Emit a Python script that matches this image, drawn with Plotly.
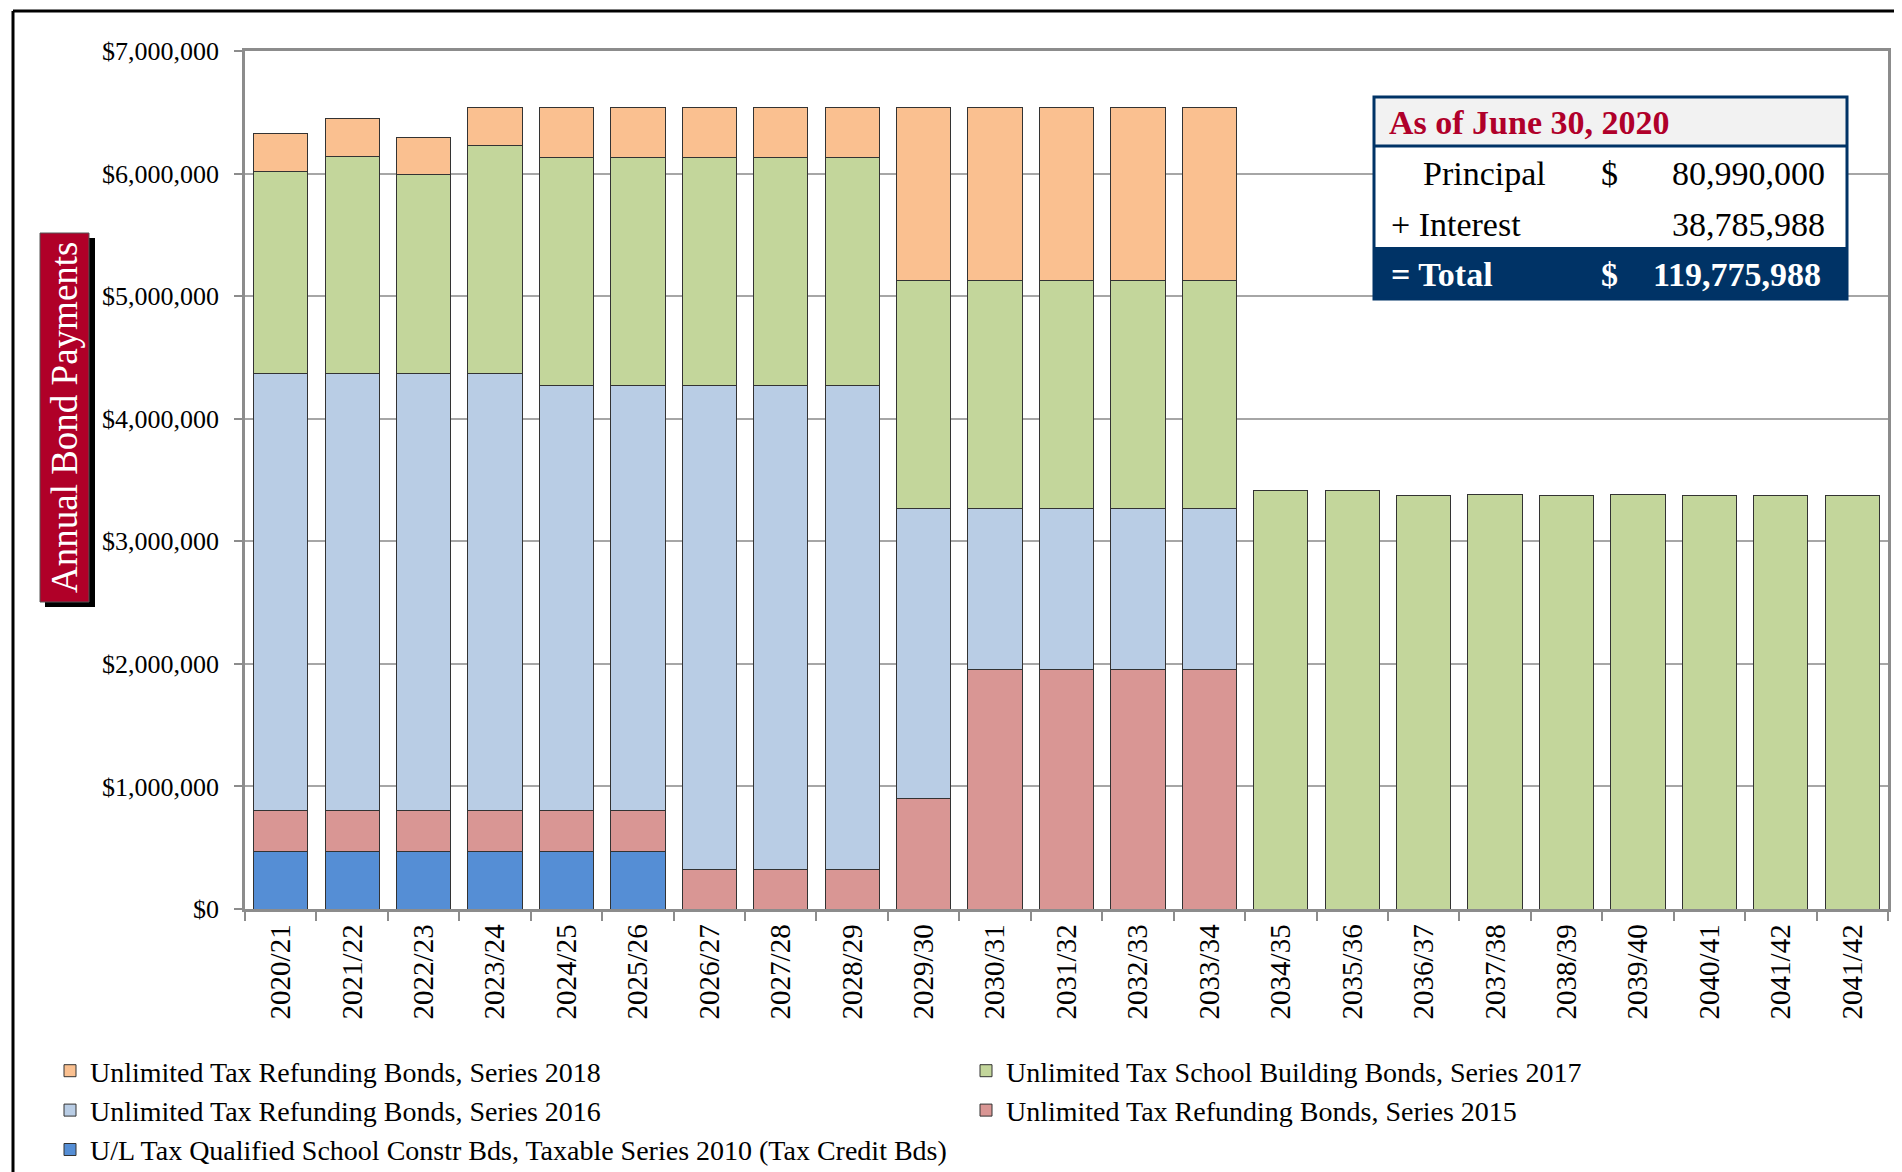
import plotly.graph_objects as go

# fiscal years (last label repeats in the source chart)
years = ['2020/21', '2021/22', '2022/23', '2023/24', '2024/25', '2025/26', '2026/27',
         '2027/28', '2028/29', '2029/30', '2030/31', '2031/32', '2032/33', '2033/34',
         '2034/35', '2035/36', '2036/37', '2037/38', '2038/39', '2039/40', '2040/41',
         '2041/42', '2041/42']

# annual payments by bond series
s2010 = [472000, 472000, 472000, 472000, 472000, 472000, 0, 0, 0, 0, 0, 0, 0, 0,
         0, 0, 0, 0, 0, 0, 0, 0, 0]
s2015 = [333000, 333000, 333000, 333000, 333000, 333000, 324000, 324000, 324000,
         904000, 1956000, 1956000, 1956000, 1956000, 0, 0, 0, 0, 0, 0, 0, 0, 0]
s2016 = [3563000, 3563000, 3563000, 3567000, 3467000, 3467000, 3948000, 3948000,
         3948000, 2361000, 1309000, 1309000, 1309000, 1309000, 0, 0, 0, 0, 0, 0, 0, 0, 0]
s2017 = [1649000, 1771000, 1621000, 1858000, 1861000, 1861000, 1861000, 1861000,
         1861000, 1861000, 1861000, 1861000, 1861000, 1863000, 3418000, 3418000,
         3372000, 3378000, 3375000, 3378000, 3375000, 3372000, 3372000]
s2018 = [313000, 312000, 309000, 309000, 406000, 406000, 406000, 406000, 406000,
         1413000, 1413000, 1413000, 1413000, 1413000, 0, 0, 0, 0, 0, 0, 0, 0, 0]

series = [
    ('U/L Tax Qualified School Constr Bds, Taxable Series 2010 (Tax Credit Bds)', s2010, '#558ED5'),
    ('Unlimited Tax Refunding Bonds, Series 2015', s2015, '#D99694'),
    ('Unlimited Tax Refunding Bonds, Series 2016', s2016, '#B9CDE5'),
    ('Unlimited Tax School Building Bonds, Series 2017', s2017, '#C3D69B'),
    ('Unlimited Tax Refunding Bonds, Series 2018', s2018, '#FAC090'),
]

# summary box
box_title = 'As of June 30, 2020'
principal = '80,990,000'
interest = '38,785,988'
total = '119,775,988'

FONT = 'Liberation Serif'
W, H = 1902, 1172
L, R, T, B = 237, 1880, 43, 901

def px(x):
    return (x - L) / (R - L)

def py(y):
    return (B - y) / (B - T)

xs = list(range(len(years)))

fig = go.Figure()
for name, vals, color in series:
    fig.add_trace(go.Bar(
        x=xs, y=vals, name=name,
        marker=dict(color=color, line=dict(color='#333333', width=1)),
    ))

fig.update_layout(
    barmode='stack',
    bargap=0.24,
    width=W, height=H,
    margin=dict(l=L, r=W - R, t=T, b=H - B, autoexpand=False),
    paper_bgcolor='white',
    plot_bgcolor='white',
    font=dict(family=FONT, color='black', size=26),
    showlegend=True,
    legend=dict(
        orientation='h', traceorder='reversed',
        x=px(42), xanchor='left', y=py(1038), yanchor='top',
        entrywidth=871, entrywidthmode='pixels',
        font=dict(family=FONT, size=28, color='black'),
        bgcolor='rgba(0,0,0,0)',
    ),
)

fig.update_yaxes(
    range=[0, 7000000], dtick=1000000, tickformat='$,.0f',
    showgrid=True, gridcolor='#A6A6A6', gridwidth=1.5,
    showline=True, linecolor='#8C8C8C', linewidth=2.5, mirror=True,
    ticks='outside', ticklen=8, tickcolor='#8C8C8C', tickwidth=2,
    ticklabelstandoff=10,
    tickfont=dict(family=FONT, size=26, color='black'),
    zeroline=False,
)
fig.update_xaxes(
    range=[-0.5, len(years) - 0.5],
    tickvals=xs, ticktext=years, tickangle=-90,
    ticks='', showgrid=False,
    minor=dict(tick0=-0.5, dtick=1, ticks='outside', ticklen=9,
               tickcolor='#8C8C8C', tickwidth=2, showgrid=False),
    showline=True, linecolor='#8C8C8C', linewidth=2.5, mirror=True,
    ticklabelstandoff=1,
    tickfont=dict(family=FONT, size=29, color='black'),
    zeroline=False,
)

shapes = []
# outer frame (top and left visible)
shapes.append(dict(type='line', xref='paper', yref='paper',
                   x0=px(5), x1=px(1890), y0=py(3), y1=py(3),
                   line=dict(color='black', width=3)))
shapes.append(dict(type='line', xref='paper', yref='paper',
                   x0=px(5), x1=px(5), y0=py(3), y1=py(1180),
                   line=dict(color='black', width=3)))

# y title box with shadow
shapes.append(dict(type='rect', xref='paper', yref='paper',
                   x0=px(37), x1=px(87), y0=py(230), y1=py(599),
                   fillcolor='black', line=dict(width=0)))
shapes.append(dict(type='rect', xref='paper', yref='paper',
                   x0=px(32), x1=px(81), y0=py(225), y1=py(594),
                   fillcolor='#B00028', line=dict(color='#555555', width=1)))

# summary table
bx0, bx1 = 1366, 1839
shapes.append(dict(type='rect', xref='paper', yref='paper',
                   x0=px(bx0), x1=px(bx1), y0=py(89), y1=py(291),
                   fillcolor='white', line=dict(width=0)))
shapes.append(dict(type='rect', xref='paper', yref='paper',
                   x0=px(bx0), x1=px(bx1), y0=py(89), y1=py(138),
                   fillcolor='#F2F2F2', line=dict(width=0)))
shapes.append(dict(type='rect', xref='paper', yref='paper',
                   x0=px(bx0), x1=px(bx1), y0=py(239), y1=py(291),
                   fillcolor='#003366', line=dict(width=0)))
shapes.append(dict(type='line', xref='paper', yref='paper',
                   x0=px(bx0), x1=px(bx1), y0=py(138), y1=py(138),
                   line=dict(color='#003366', width=3)))
shapes.append(dict(type='rect', xref='paper', yref='paper',
                   x0=px(bx0), x1=px(bx1), y0=py(89), y1=py(291),
                   fillcolor='rgba(0,0,0,0)', line=dict(color='#003366', width=3)))
fig.update_layout(shapes=shapes)

def note(text, x, y, anchor, color='black', size=34, bold=False, angle=0):
    if bold:
        text = '<b>' + text + '</b>'
    fig.add_annotation(text=text, xref='paper', yref='paper', x=px(x), y=py(y),
                       xanchor=anchor, yanchor='middle', showarrow=False,
                       textangle=angle,
                       font=dict(family=FONT, size=size, color=color))

note('Annual Bond Payments', 56.5, 409.5, 'center', color='white', size=37, angle=-90)

note(box_title, 1379, 114, 'left', color='#B0002A', size=34, bold=True)
note('Principal', 1413, 166, 'left')
note('$', 1601, 166, 'center')
note(principal, 1819, 166, 'right')
note('+ Interest', 1381, 216, 'left')
note(interest, 1819, 216, 'right')
note('= Total', 1381, 266, 'left', color='white', bold=True)
note('$', 1601, 266, 'center', color='white', bold=True)
note(total, 1815, 266, 'right', color='white', bold=True)

fig.write_html('out.html')
